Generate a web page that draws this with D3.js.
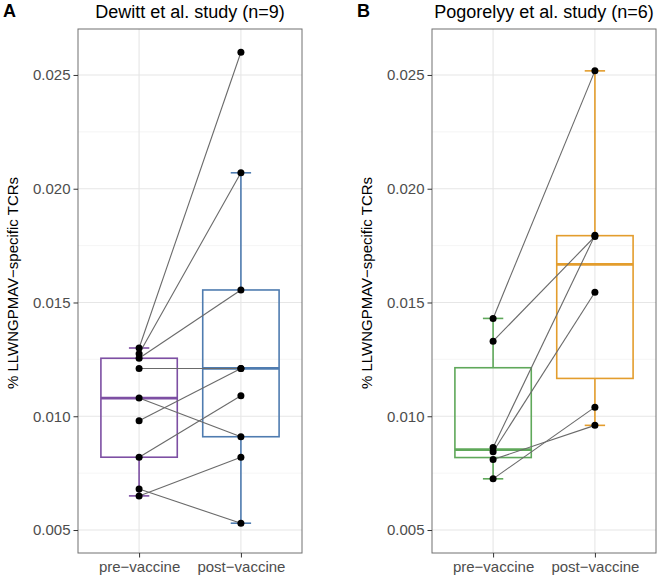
<!DOCTYPE html>
<html>
<head>
<meta charset="utf-8">
<script src="https://cdn.jsdelivr.net/npm/d3@7"></script>
<style>
  html, body { margin: 0; padding: 0; background: #ffffff; }
  svg { display: block; font-family: "Liberation Sans", Arial, Helvetica, sans-serif; }
</style>
</head>
<body>
<svg id="chart" width="661" height="580"></svg>
<script>
// ---- data ----
const categories = ["pre\u2212vaccine", "post\u2212vaccine"];
const yTicks = [0.005, 0.010, 0.015, 0.020, 0.025];
const yTickLabels = ["0.005", "0.010", "0.015", "0.020", "0.025"];
const yMinorTicks = [0.0075, 0.0125, 0.0175, 0.0225];
const yAxisTitle = "% LLWNGPMAV\u2212specific TCRs";

// Panel A: Dewitt et al. (paired, same index = same donor)
const dewittPre  = [0.0130, 0.01275, 0.01255, 0.0121, 0.0108, 0.0098, 0.0082, 0.0068, 0.0065];
const dewittPost = [0.0260, 0.0207, 0.01555, 0.0121, 0.0091, 0.0121, 0.0109, 0.0053, 0.0082];

// Panel B: Pogorelyy et al.
const pogorelyyPre  = [0.0143, 0.0133, 0.00863, 0.00844, 0.0081, 0.00725];
const pogorelyyPost = [0.02518, 0.0179, 0.01795, 0.01545, 0.0096, 0.0104];

const panels = [
  { letter: "A", title: "Dewitt et al. study (n=9)", pre: dewittPre, post: dewittPost,
    colors: ["#7d4fa3", "#4f7cb0"], x0: 78 },
  { letter: "B", title: "Pogorelyy et al. study (n=6)", pre: pogorelyyPre, post: pogorelyyPost,
    colors: ["#5fa85a", "#e39d2d"], x0: 432 }
];

// ---- layout ----
const plotW = 224, plotTop = 29, plotBottom = 553;
const svg = d3.select("#chart");

function boxStats(vals) {
  const s = vals.slice().sort(d3.ascending);
  const q1 = d3.quantile(s, 0.25), med = d3.quantile(s, 0.5), q3 = d3.quantile(s, 0.75);
  const iqr = q3 - q1;
  const lo = d3.min(s.filter(v => v >= q1 - 1.5 * iqr));
  const hi = d3.max(s.filter(v => v <= q3 + 1.5 * iqr));
  return { q1, med, q3, lo, hi };
}

panels.forEach(p => {
  const g = svg.append("g");
  // ggplot discrete expansion: 0.6 units on each side, 1 unit between categories
  const step = plotW / 2.2;
  const xPos = c => p.x0 + step * (0.6 + categories.indexOf(c));
  const y = d3.scaleLinear().domain([0.00399, 0.02702]).range([plotBottom, plotTop]);

  // grid
  g.append("g").selectAll("line").data(yMinorTicks).join("line")
    .attr("x1", p.x0).attr("x2", p.x0 + plotW)
    .attr("y1", d => y(d)).attr("y2", d => y(d))
    .attr("stroke", "#f0f0f0").attr("stroke-width", 0.7);
  g.append("g").selectAll("line").data(yTicks).join("line")
    .attr("x1", p.x0).attr("x2", p.x0 + plotW)
    .attr("y1", d => y(d)).attr("y2", d => y(d))
    .attr("stroke", "#e6e6e6").attr("stroke-width", 1.1);
  g.append("g").selectAll("line").data(categories).join("line")
    .attr("x1", d => xPos(d)).attr("x2", d => xPos(d))
    .attr("y1", plotTop).attr("y2", plotBottom)
    .attr("stroke", "#e6e6e6").attr("stroke-width", 1.1);

  // boxes + whiskers
  const boxW = step * 0.75, capW = step * 0.2;
  [p.pre, p.post].forEach((vals, i) => {
    const st = boxStats(vals);
    const cx = xPos(categories[i]);
    const col = p.colors[i];
    const bg = g.append("g");
    bg.append("line").attr("x1", cx).attr("x2", cx).attr("y1", y(st.q3)).attr("y2", y(st.hi))
      .attr("stroke", col).attr("stroke-width", 1.6);
    bg.append("line").attr("x1", cx).attr("x2", cx).attr("y1", y(st.q1)).attr("y2", y(st.lo))
      .attr("stroke", col).attr("stroke-width", 1.6);
    [st.hi, st.lo].forEach(v => {
      bg.append("line").attr("x1", cx - capW / 2).attr("x2", cx + capW / 2)
        .attr("y1", y(v)).attr("y2", y(v)).attr("stroke", col).attr("stroke-width", 1.6);
    });
    bg.append("rect").attr("x", cx - boxW / 2).attr("width", boxW)
      .attr("y", y(st.q3)).attr("height", y(st.q1) - y(st.q3))
      .attr("fill", "none").attr("stroke", col).attr("stroke-width", 1.6);
    bg.append("line").attr("x1", cx - boxW / 2).attr("x2", cx + boxW / 2)
      .attr("y1", y(st.med)).attr("y2", y(st.med)).attr("stroke", col).attr("stroke-width", 2.8);
  });

  // paired lines
  const pairs = p.pre.map((v, i) => [v, p.post[i]]);
  g.append("g").selectAll("line").data(pairs).join("line")
    .attr("x1", xPos(categories[0])).attr("x2", xPos(categories[1]))
    .attr("y1", d => y(d[0])).attr("y2", d => y(d[1]))
    .attr("stroke", "#6a6a6a").attr("stroke-width", 1.1);

  // points
  const pts = [];
  p.pre.forEach(v => pts.push([categories[0], v]));
  p.post.forEach(v => pts.push([categories[1], v]));
  g.append("g").selectAll("circle").data(pts).join("circle")
    .attr("cx", d => xPos(d[0])).attr("cy", d => y(d[1])).attr("r", 3.5).attr("fill", "#000");

  // border
  g.append("rect").attr("x", p.x0).attr("y", plotTop).attr("width", plotW)
    .attr("height", plotBottom - plotTop).attr("fill", "none")
    .attr("stroke", "#707070").attr("stroke-width", 1);

  // y axis
  const yAxis = d3.axisLeft(y).tickValues(yTicks)
    .tickFormat((d, i) => yTickLabels[i]).tickSize(4.5).tickPadding(3);
  const ya = g.append("g").attr("transform", `translate(${p.x0},0)`).call(yAxis);
  ya.select(".domain").remove();
  ya.selectAll(".tick line").attr("stroke", "#333").attr("stroke-width", 1);
  ya.selectAll(".tick text").attr("fill", "#4d4d4d").style("font-size", "15px")
    .style("font-family", '"Liberation Sans", Arial, sans-serif');

  // x axis
  const xs = d3.scaleOrdinal().domain(categories).range(categories.map(xPos));
  const xAxis = d3.axisBottom(xs).tickSize(4.5).tickPadding(4);
  const xa = g.append("g").attr("transform", `translate(0,${plotBottom})`).call(xAxis);
  xa.select(".domain").remove();
  xa.selectAll(".tick line").attr("stroke", "#333").attr("stroke-width", 1);
  xa.selectAll(".tick text").attr("fill", "#4d4d4d").style("font-size", "15px")
    .style("font-family", '"Liberation Sans", Arial, sans-serif');

  // y axis title
  g.append("text")
    .attr("transform", `translate(${p.x0 - 60},${(plotTop + plotBottom) / 2 - 8}) rotate(-90)`)
    .attr("text-anchor", "middle").style("font-size", "15px").attr("fill", "#000")
    .text(yAxisTitle);

  // title
  g.append("text").attr("x", p.x0 + plotW / 2).attr("y", 18)
    .attr("text-anchor", "middle").style("font-size", "18px").attr("fill", "#000")
    .text(p.title);

  // panel letter
  g.append("text").attr("x", p.x0 - 75).attr("y", 17)
    .style("font-size", "18px").style("font-weight", "bold").attr("fill", "#000")
    .text(p.letter);
});
</script>
</body>
</html>
